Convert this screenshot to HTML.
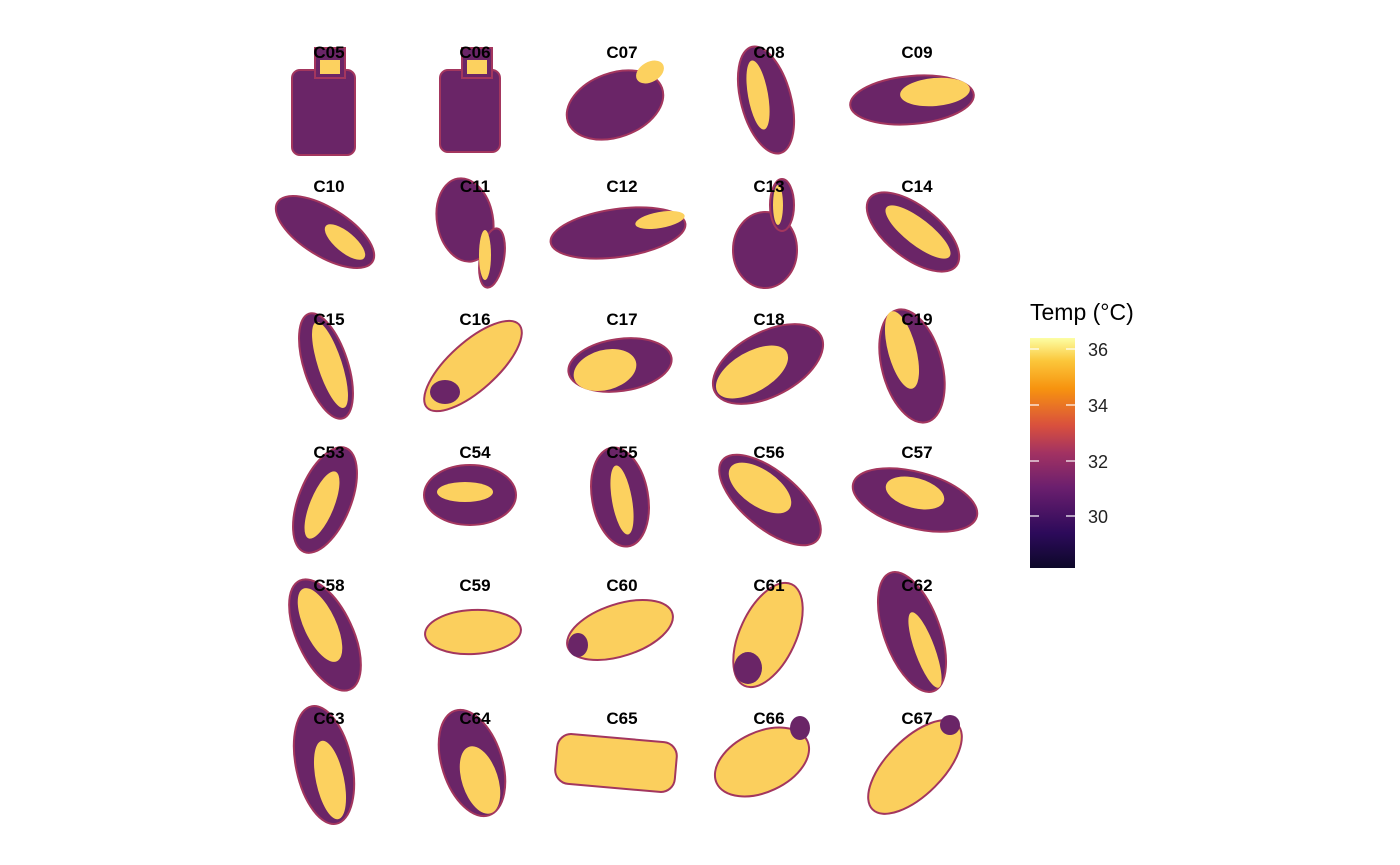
<!DOCTYPE html>
<html><head><meta charset="utf-8"><style>
html,body{margin:0;padding:0;background:#fff;}
svg{display:block;}
text{font-family:"Liberation Sans",Arial,sans-serif;}
</style></head><body>
<svg width="1400" height="865" viewBox="0 0 1400 865" xmlns="http://www.w3.org/2000/svg">
<defs>
<linearGradient id="cb" x1="0" y1="1" x2="0" y2="0">
<stop offset="0" stop-color="#0d0829"/>
<stop offset="0.15" stop-color="#2c0a5a"/>
<stop offset="0.35" stop-color="#6b1f6e"/>
<stop offset="0.5" stop-color="#a23262"/>
<stop offset="0.62" stop-color="#d9503d"/>
<stop offset="0.78" stop-color="#f7930f"/>
<stop offset="0.9" stop-color="#fbc63a"/>
<stop offset="1" stop-color="#fcfea4"/>
</linearGradient>
</defs>
<g stroke="#a3365e" stroke-width="2">
<rect x="292" y="70" width="63" height="85" rx="8" fill="#6a2567"/><rect x="315" y="48" width="30" height="30" fill="#6a2567"/><rect x="320" y="60" width="20" height="14" fill="#fcd15f" stroke="none"/>
<rect x="440" y="70" width="60" height="82" rx="8" fill="#6a2567"/><rect x="462" y="48" width="30" height="30" fill="#6a2567"/><rect x="467" y="60" width="20" height="14" fill="#fcd15f" stroke="none"/>
<ellipse cx="615" cy="105" rx="50" ry="32" transform="rotate(-20 615 105)" fill="#6a2567"/><ellipse cx="650" cy="72" rx="15" ry="10" transform="rotate(-30 650 72)" fill="#fcd15f" stroke="none"/>
<ellipse cx="766" cy="100" rx="25" ry="55" transform="rotate(-15 766 100)" fill="#6a2567"/><ellipse cx="758" cy="95" rx="10" ry="35" transform="rotate(-10 758 95)" fill="#fcd15f" stroke="none"/>
<ellipse cx="912" cy="100" rx="62" ry="24" transform="rotate(-5 912 100)" fill="#6a2567"/><ellipse cx="935" cy="92" rx="35" ry="14" transform="rotate(-5 935 92)" fill="#fcd15f" stroke="none"/>
<ellipse cx="325" cy="232" rx="56" ry="24" transform="rotate(32 325 232)" fill="#6a2567"/><ellipse cx="345" cy="242" rx="25" ry="10" transform="rotate(40 345 242)" fill="#fcd15f" stroke="none"/>
<ellipse cx="465" cy="220" rx="28" ry="42" transform="rotate(-10 465 220)" fill="#6a2567"/><ellipse cx="492" cy="258" rx="12" ry="30" transform="rotate(10 492 258)" fill="#6a2567"/><ellipse cx="485" cy="255" rx="6" ry="25" fill="#fcd15f" stroke="none"/>
<ellipse cx="618" cy="233" rx="68" ry="24" transform="rotate(-8 618 233)" fill="#6a2567"/><ellipse cx="660" cy="220" rx="25" ry="8" transform="rotate(-10 660 220)" fill="#fcd15f" stroke="none"/>
<ellipse cx="765" cy="250" rx="32" ry="38" fill="#6a2567"/><ellipse cx="782" cy="205" rx="12" ry="26" fill="#6a2567"/><ellipse cx="778" cy="205" rx="5" ry="20" fill="#fcd15f" stroke="none"/>
<ellipse cx="913" cy="232" rx="55" ry="26" transform="rotate(38 913 232)" fill="#6a2567"/><ellipse cx="918" cy="232" rx="40" ry="13" transform="rotate(38 918 232)" fill="#fcd15f" stroke="none"/>
<ellipse cx="326" cy="366" rx="22" ry="55" transform="rotate(-18 326 366)" fill="#6a2567"/><ellipse cx="330" cy="365" rx="12" ry="45" transform="rotate(-18 330 365)" fill="#fcd15f" stroke="none"/>
<ellipse cx="473" cy="366" rx="62" ry="24" transform="rotate(-42 473 366)" fill="#fbcf5d"/><ellipse cx="445" cy="392" rx="15" ry="12" fill="#6a2567" stroke="none"/>
<ellipse cx="620" cy="365" rx="52" ry="26" transform="rotate(-8 620 365)" fill="#6a2567"/><ellipse cx="605" cy="370" rx="32" ry="20" transform="rotate(-15 605 370)" fill="#fcd15f" stroke="none"/>
<ellipse cx="768" cy="364" rx="60" ry="32" transform="rotate(-28 768 364)" fill="#6a2567"/><ellipse cx="752" cy="372" rx="40" ry="20" transform="rotate(-30 752 372)" fill="#fcd15f" stroke="none"/>
<ellipse cx="912" cy="366" rx="30" ry="58" transform="rotate(-15 912 366)" fill="#6a2567"/><ellipse cx="902" cy="350" rx="14" ry="40" transform="rotate(-15 902 350)" fill="#fcd15f" stroke="none"/>
<ellipse cx="325" cy="500" rx="26" ry="56" transform="rotate(22 325 500)" fill="#6a2567"/><ellipse cx="322" cy="505" rx="12" ry="36" transform="rotate(22 322 505)" fill="#fcd15f" stroke="none"/>
<ellipse cx="470" cy="495" rx="46" ry="30" fill="#6a2567"/><ellipse cx="465" cy="492" rx="28" ry="10" fill="#fcd15f" stroke="none"/>
<ellipse cx="620" cy="497" rx="28" ry="50" transform="rotate(-10 620 497)" fill="#6a2567"/><ellipse cx="622" cy="500" rx="10" ry="35" transform="rotate(-10 622 500)" fill="#fcd15f" stroke="none"/>
<ellipse cx="770" cy="500" rx="62" ry="28" transform="rotate(40 770 500)" fill="#6a2567"/><ellipse cx="760" cy="488" rx="36" ry="18" transform="rotate(35 760 488)" fill="#fcd15f" stroke="none"/>
<ellipse cx="915" cy="500" rx="64" ry="28" transform="rotate(15 915 500)" fill="#6a2567"/><ellipse cx="915" cy="493" rx="30" ry="15" transform="rotate(15 915 493)" fill="#fcd15f" stroke="none"/>
<ellipse cx="325" cy="635" rx="28" ry="60" transform="rotate(-25 325 635)" fill="#6a2567"/><ellipse cx="320" cy="625" rx="16" ry="40" transform="rotate(-25 320 625)" fill="#fcd15f" stroke="none"/>
<ellipse cx="473" cy="632" rx="48" ry="22" transform="rotate(-3 473 632)" fill="#fbcf5d"/>
<ellipse cx="620" cy="630" rx="55" ry="26" transform="rotate(-18 620 630)" fill="#fbcf5d"/><ellipse cx="578" cy="645" rx="10" ry="12" fill="#6a2567" stroke="none"/>
<ellipse cx="768" cy="635" rx="28" ry="56" transform="rotate(25 768 635)" fill="#fbcf5d"/><ellipse cx="748" cy="668" rx="14" ry="16" fill="#6a2567" stroke="none"/>
<ellipse cx="912" cy="632" rx="28" ry="63" transform="rotate(-20 912 632)" fill="#6a2567"/><ellipse cx="925" cy="650" rx="10" ry="40" transform="rotate(-20 925 650)" fill="#fcd15f" stroke="none"/>
<ellipse cx="324" cy="765" rx="28" ry="60" transform="rotate(-12 324 765)" fill="#6a2567"/><ellipse cx="330" cy="780" rx="14" ry="40" transform="rotate(-12 330 780)" fill="#fcd15f" stroke="none"/>
<ellipse cx="472" cy="763" rx="30" ry="55" transform="rotate(-18 472 763)" fill="#6a2567"/><ellipse cx="480" cy="780" rx="18" ry="35" transform="rotate(-18 480 780)" fill="#fcd15f" stroke="none"/>
<rect x="556" y="738" width="120" height="50" rx="14" transform="rotate(5 616 763)" fill="#fbcf5d"/>
<ellipse cx="762" cy="762" rx="50" ry="30" transform="rotate(-25 762 762)" fill="#fbcf5d"/><ellipse cx="800" cy="728" rx="10" ry="12" fill="#6a2567" stroke="none"/>
<ellipse cx="915" cy="767" rx="60" ry="28" transform="rotate(-45 915 767)" fill="#fbcf5d"/><ellipse cx="950" cy="725" rx="10" ry="10" fill="#6a2567" stroke="none"/>
</g>
<g font-size="17" font-weight="bold" text-anchor="middle" fill="#000">
<text x="329" y="58">C05</text><text x="475" y="58">C06</text><text x="622" y="58">C07</text><text x="769" y="58">C08</text><text x="917" y="58">C09</text>
<text x="329" y="192">C10</text><text x="475" y="192">C11</text><text x="622" y="192">C12</text><text x="769" y="192">C13</text><text x="917" y="192">C14</text>
<text x="329" y="325">C15</text><text x="475" y="325">C16</text><text x="622" y="325">C17</text><text x="769" y="325">C18</text><text x="917" y="325">C19</text>
<text x="329" y="458">C53</text><text x="475" y="458">C54</text><text x="622" y="458">C55</text><text x="769" y="458">C56</text><text x="917" y="458">C57</text>
<text x="329" y="591">C58</text><text x="475" y="591">C59</text><text x="622" y="591">C60</text><text x="769" y="591">C61</text><text x="917" y="591">C62</text>
<text x="329" y="724">C63</text><text x="475" y="724">C64</text><text x="622" y="724">C65</text><text x="769" y="724">C66</text><text x="917" y="724">C67</text>
</g>
<text x="1030" y="320" font-size="23" fill="#000">Temp (°C)</text>
<rect x="1030" y="338" width="45" height="230" fill="url(#cb)"/>
<g stroke="#fff" stroke-width="1.2">
<line x1="1030" y1="349" x2="1039" y2="349"/><line x1="1066" y1="349" x2="1075" y2="349"/>
<line x1="1030" y1="405" x2="1039" y2="405"/><line x1="1066" y1="405" x2="1075" y2="405"/>
<line x1="1030" y1="461" x2="1039" y2="461"/><line x1="1066" y1="461" x2="1075" y2="461"/>
<line x1="1030" y1="516" x2="1039" y2="516"/><line x1="1066" y1="516" x2="1075" y2="516"/>
</g>
<g font-size="18" fill="#222">
<text x="1088" y="356">36</text><text x="1088" y="412">34</text><text x="1088" y="468">32</text><text x="1088" y="523">30</text>
</g>
</svg>
</body></html>
